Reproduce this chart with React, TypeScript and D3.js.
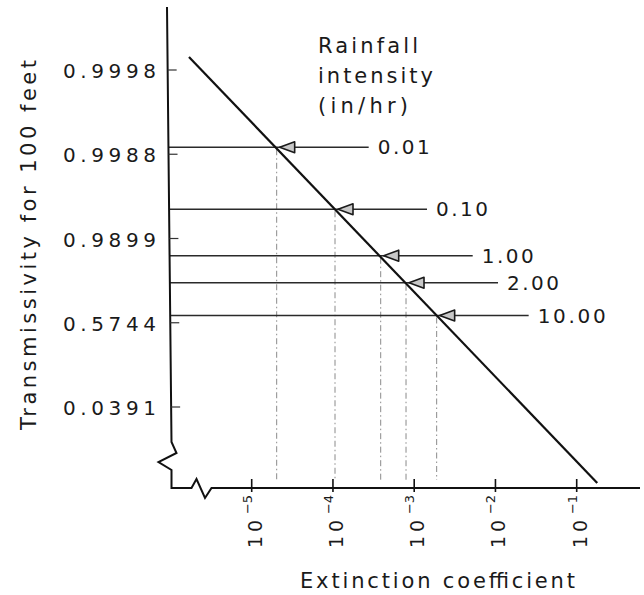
import React from "react";
import * as d3 from "d3";

// Extinction coefficient decades shown on the log x axis
const extinctionTicks = [1e-5, 1e-4, 1e-3, 1e-2, 1e-1];
// Transmissivity labels, one per grid step on the y axis
const transmissivityLabels = ["0.9998", "0.9988", "0.9899", "0.5744", "0.0391"];
// Rainfall intensities (in/hr) with their y level (grid steps) and extinction coefficient
const rainfallLabels = ["0.01", "0.10", "1.00", "2.00", "10.00"];
const rainfallLevel = [0.917, 1.653, 2.204, 2.525, 2.914];
const rainfallExtinction = [2.03e-5, 1.06e-4, 3.87e-4, 7.93e-4, 1.89e-3];
// End points of the transmissivity / extinction relation
const curveExtinction = [1.69e-6, 0.179];
const curveLevel = [-0.154, 4.902];

const W = 644;
const H = 595;
const FONT = "'DejaVu Sans', Verdana, sans-serif";
const INK = "#1a1a1a";

export default function App() {
  const x = d3.scaleLog().domain([1e-5, 1e-1]).range([251.7, 576.7]);
  const y = d3
    .scaleLinear()
    .domain([0, transmissivityLabels.length - 1])
    .range([70, 407]);

  // Axis frame with break marks on both axes
  const axisTop = 7;
  const axisBase = 488;
  const axisXAt = (py: number) => 167 + ((py - axisTop) * 4.5) / 435;
  const frame = d3.line()([
    [167, axisTop],
    [171.5, 442],
    [176.5, 453],
    [158.5, 462],
    [171.5, 470],
    [171.5, axisBase],
    [191.5, axisBase],
    [196.5, 479],
    [205, 498],
    [211.5, axisBase],
    [640, axisBase],
  ]) as string;

  const curve = d3
    .line<number>()
    .x((_, i) => x(curveExtinction[i]))
    .y((d) => y(d))(curveLevel) as string;

  const shaft = 92;

  return (
    <svg
      width={W}
      height={H}
      style={{ position: "absolute", left: 0, top: 0, background: "#fff" }}
    >
      <rect width={W} height={H} fill="#fff" />

      {/* dash-dot drop lines to the extinction axis */}
      {rainfallExtinction.map((k, i) => (
        <line
          key={"drop" + i}
          x1={x(k)}
          x2={x(k)}
          y1={y(rainfallLevel[i]) + 2}
          y2={480}
          stroke="#8a8a8a"
          strokeWidth={1}
          strokeDasharray="6 3 1.5 3"
        />
      ))}

      {/* rainfall levels with arrows pointing at the curve */}
      {rainfallLabels.map((lab, i) => {
        const py = y(rainfallLevel[i]);
        const px = x(rainfallExtinction[i]);
        const tip = px + 3;
        return (
          <g key={"lvl" + i}>
            <line
              x1={axisXAt(py)}
              x2={px + shaft}
              y1={py}
              y2={py}
              stroke="#2a2a2a"
              strokeWidth={1.4}
            />
            <path
              d={`M${tip},${py} L${tip + 15},${py - 5.5} L${tip + 15},${py + 5.5} Z`}
              fill="#c8c8c8"
              stroke="#1a1a1a"
              strokeWidth={1.6}
              strokeLinejoin="round"
            />
            <text
              x={px + shaft + 9}
              y={py + 7}
              fontFamily={FONT}
              fontSize={20}
              fill={INK}
              textLength={lab.length > 4 ? 68 : 52}
              lengthAdjust="spacing"
            >
              {lab}
            </text>
          </g>
        );
      })}

      {/* relation line */}
      <path d={curve} fill="none" stroke="#111" strokeWidth={2.2} />

      {/* axes */}
      <path d={frame} fill="none" stroke="#111" strokeWidth={2} strokeLinejoin="miter" />

      {/* y ticks and labels */}
      {transmissivityLabels.map((lab, i) => {
        const py = y(i);
        const ax = axisXAt(py);
        return (
          <g key={"yt" + i}>
            <line x1={ax} x2={ax + 9} y1={py} y2={py} stroke="#333" strokeWidth={1.2} />
            <text
              x={63}
              y={py + 8}
              fontFamily={FONT}
              fontSize={20}
              fill={INK}
              textLength={93}
              lengthAdjust="spacing"
            >
              {lab}
            </text>
          </g>
        );
      })}

      {/* x ticks and power-of-ten labels */}
      {extinctionTicks.map((k, i) => {
        const px = x(k);
        const exp = Math.round(Math.log10(k));
        return (
          <g key={"xt" + i}>
            <line x1={px} x2={px} y1={479} y2={492} stroke="#111" strokeWidth={1.6} />
            <g transform={`translate(${px + 10},548) rotate(-90)`}>
              <text
                x={0}
                y={0}
                fontFamily={FONT}
                fontSize={19}
                fill={INK}
                textLength={28}
                lengthAdjust="spacing"
              >
                10
              </text>
              <text
                x={34}
                y={-10}
                fontFamily={FONT}
                fontSize={13}
                fill={INK}
                textLength={19}
                lengthAdjust="spacing"
              >
                {"\u2212" + Math.abs(exp)}
              </text>
            </g>
          </g>
        );
      })}

      {/* legend title */}
      {["Rainfall", "intensity", "(in/hr)"].map((t, i) => (
        <text
          key={"title" + i}
          x={318}
          y={53 + i * 30}
          fontFamily={FONT}
          fontSize={21}
          fill={INK}
          textLength={[100, 115, 90][i]}
          lengthAdjust="spacing"
        >
          {t}
        </text>
      ))}

      {/* axis titles */}
      <text
        transform="translate(36,245) rotate(-90)"
        textAnchor="middle"
        fontFamily={FONT}
        fontSize={21}
        fill={INK}
        textLength={370}
        lengthAdjust="spacing"
      >
        Transmissivity for 100 feet
      </text>
      <text
        x={300}
        y={588}
        fontFamily={FONT}
        fontSize={21}
        fill={INK}
        textLength={275}
        lengthAdjust="spacing"
      >
        Extinction coefficient
      </text>
    </svg>
  );
}
